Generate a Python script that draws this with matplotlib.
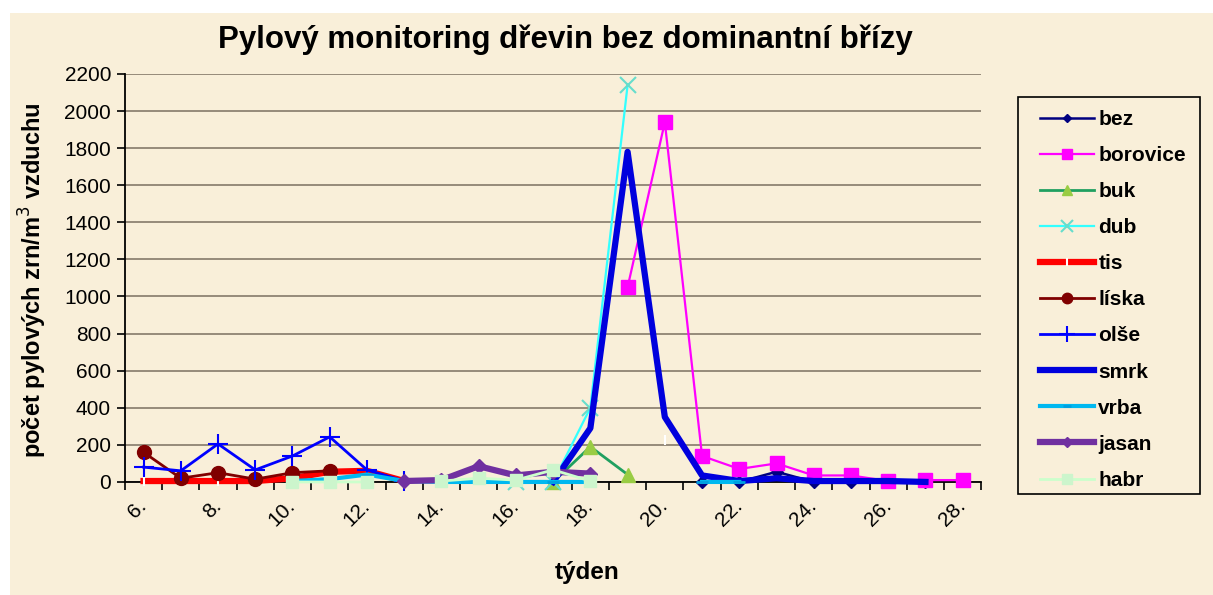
import numpy as np
import matplotlib.pyplot as plt
from matplotlib.patches import Rectangle

nan = np.nan

weeks = list(range(6, 29))
week_labels = [f"{w}." for w in range(6, 29, 2)]
y_ticks = list(range(0, 2201, 200))

#          6    7    8    9    10   11   12   13   14   15   16   17   18   19    20    21   22   23   24   25   26   27   28
bez      = [nan, nan, nan, nan, nan, nan, nan, nan, nan, nan, nan, nan, nan, nan,  nan,  0,   0,   55,  0,   0,   10,  0,   nan]
borovice = [nan, nan, nan, nan, nan, nan, nan, nan, nan, nan, nan, nan, nan, 1050, 1940, 140, 70,  100, 35,  35,  5,   10,  10]
buk      = [nan, nan, nan, nan, nan, nan, nan, nan, nan, nan, nan, 0,   190, 40,   nan,  nan, nan, nan, nan, nan, nan, nan, nan]
dub      = [nan, nan, nan, nan, nan, nan, nan, nan, nan, nan, 0,   0,   400, 2140, nan,  nan, nan, nan, nan, nan, nan, nan, nan]
tis      = [5,   5,   5,   5,   20,  55,  60,  5,   nan, nan, nan, nan, nan, nan,  225,  nan, nan, nan, nan, nan, nan, nan, nan]
liska    = [160, 20,  50,  15,  50,  60,  nan, nan, nan, nan, nan, nan, nan, nan,  nan,  nan, nan, nan, nan, nan, nan, nan, nan]
olse     = [80,  60,  205, 65,  140, 243, 65,  5,   nan, nan, nan, nan, nan, nan,  nan,  nan, nan, nan, nan, nan, nan, nan, nan]
smrk     = [nan, nan, nan, nan, nan, nan, nan, nan, nan, nan, nan, 0,   290, 1780, 350,  35,  5,   20,  5,   5,   5,   0,   nan]
vrba     = [nan, nan, nan, nan, 5,   15,  40,  5,   0,   0,   0,   0,   0,   nan,  nan,  0,   0,   nan, nan, nan, nan, nan, nan]
jasan    = [nan, nan, nan, nan, nan, nan, nan, 5,   10,  85,  35,  55,  45,  nan,  nan,  nan, nan, nan, nan, nan, nan, nan, nan]
habr     = [nan, nan, nan, nan, 0,   0,   0,   nan, 5,   20,  10,  65,  5,   nan,  nan,  nan, nan, nan, nan, nan, nan, nan, nan]

bg = '#f9efd9'
W, H = 1213, 595

fig = plt.figure(figsize=(12.13, 5.95), dpi=100, facecolor='white')
fig.patches.append(Rectangle((10 / W, 0), 1, 1 - 13 / H, transform=fig.transFigure,
                             facecolor=bg, edgecolor='none', zorder=-10))
# legend box drawn by hand
fig.patches.append(Rectangle((1018 / W, 1 - 494 / H), 182 / W, 397 / H, transform=fig.transFigure,
                             facecolor='none', edgecolor='black', lw=1.2, zorder=5))
plt.rcParams['font.family'] = ['Liberation Sans', 'DejaVu Sans']

ax = fig.add_axes([0.103, 0.190, 0.706, 0.6857])
ax.set_facecolor('none')

series = [
    ('bez', bez, dict(color='#000080', lw=1.8, marker='D', ms=6, mfc='#000080', mec='#000080')),
    ('borovice', borovice, dict(color='#ff00ff', lw=1.6, marker='s', ms=10, mfc='#ff00ff', mec='#ff00ff')),
    ('buk', buk, dict(color='#20a060', lw=2, marker='^', ms=10, mfc='#99cc44', mec='#99cc44')),
    ('dub', dub, dict(color='#33ffff', lw=1.6, marker='x', ms=11, mew=1.5, mfc='#66ddcc', mec='#66ddcc')),
    ('tis', tis, dict(color='#ff0000', lw=4.5, marker='|', ms=7, mew=1.5, mfc='white', mec='white')),
    ('líska', liska, dict(color='#800000', lw=2, marker='o', ms=10, mfc='#800000', mec='#800000')),
    ('olše', olse, dict(color='#0000ff', lw=2, marker='+', ms=15, mew=1.5, mec='#0000ff')),
    ('smrk', smrk, dict(color='#0000dd', lw=4.5)),
    ('vrba', vrba, dict(color='#00b8f0', lw=3, marker='_', ms=8, mew=2, mec='#00a0e0')),
    ('jasan', jasan, dict(color='#7030a0', lw=4.5, marker='D', ms=7, mfc='#7030a0', mec='#7030a0')),
    ('habr', habr, dict(color='#ccffcc', lw=2, marker='s', ms=9, mfc='#ccf5cc', mec='#ccf5cc')),
]

for i, (name, vals, style) in enumerate(series):
    ax.plot(weeks, vals, label=name, zorder=3 + i, clip_on=False, **style)

ax.set_xlim(5.5, 28.5)
ax.set_ylim(0, 2200)
ax.set_yticks(y_ticks)
ax.set_xticks(range(6, 29, 2))
ax.set_xticklabels(week_labels, rotation=45, ha='right', va='center', rotation_mode='anchor')
ax.set_xticks(np.arange(5.5, 28.6, 1), minor=True)
ax.tick_params(axis='x', which='major', length=0, pad=15, labelsize=15)
ax.tick_params(axis='x', which='minor', length=6, width=1.2, direction='out', color='black')
ax.tick_params(axis='y', length=6, width=1.2, direction='out', labelsize=15, pad=4)

ax.grid(axis='y', color='#857a6a', lw=1.2)
ax.set_axisbelow(True)
for s in ['top', 'right']:
    ax.spines[s].set_visible(False)
for s in ['left', 'bottom']:
    ax.spines[s].set_color('black')
    ax.spines[s].set_linewidth(1.3)
    ax.spines[s].set_zorder(2)

fig.text(0.466, 0.934, 'Pylový monitoring dřevin bez dominantní břízy', ha='center', va='center',
         fontsize=22.5, fontweight='bold')
fig.text(0.484, 0.038, 'týden', ha='center', va='center', fontsize=17.5, fontweight='bold')
fig.text(0.027, 0.53, 'počet pylových zrn/m$^3$ vzduchu', ha='center', va='center', rotation=90,
         fontsize=17, fontweight='bold')

leg = fig.legend(loc='upper left', bbox_to_anchor=(1040 / W, 1 - 110 / H), borderaxespad=0,
                 prop={'weight': 'bold', 'size': 15}, handlelength=2.6, handletextpad=0.2,
                 labelspacing=0.82, borderpad=0, frameon=False, markerscale=0.75)

fig.savefig('out.png', dpi=100, facecolor='white')
